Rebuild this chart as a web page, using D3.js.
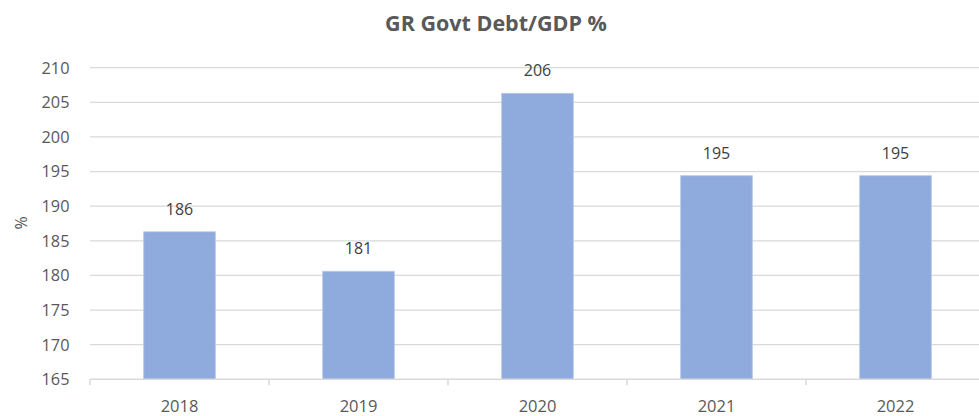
<!DOCTYPE html>
<html><head><meta charset="utf-8">
<script src="https://cdn.jsdelivr.net/npm/d3@7"></script>
<style>body{margin:0;background:#fff;}svg{display:block;font-family:"Open Sans","Noto Sans",sans-serif;}</style>
</head><body>
<svg id="c" width="979" height="416"></svg>
<script>
const categories = ["2018","2019","2020","2021","2022"];
const values = [186.3, 180.6, 206.3, 194.4, 194.4];
const labels = ["186","181","206","195","195"];
const yTicks = [165,170,175,180,185,190,195,200,205,210];
const title = "GR Govt Debt/GDP %";
const yTitle = "%";

const svg = d3.select("#c");
const pLeft = 90, pRight = 985, pTop = 67.7, pBottom = 379.3;
const x = d3.scaleBand().domain(categories).range([pLeft, pRight]).paddingInner(0.6).paddingOuter(0.3);
const step = x.step();
const y = d3.scaleLinear().domain([165,210]).range([pBottom, pTop]);

// gridlines
svg.append("g").selectAll("line").data(yTicks.slice(1)).join("line")
  .attr("x1", pLeft).attr("x2", 979).attr("y1", d=>y(d)).attr("y2", d=>y(d))
  .attr("stroke", "#d9d9d9").attr("stroke-width", 1.2);

// y labels
svg.append("g").selectAll("text").data(yTicks).join("text")
  .attr("x", 69.5).attr("y", d=>y(d)).attr("dy","0.36em").attr("text-anchor","end")
  .attr("font-size", 16.3).attr("fill", "#595959").text(d=>d);

// bars
svg.append("g").selectAll("rect").data(values).join("rect")
  .attr("x", (d,i)=>x(categories[i])).attr("width", x.bandwidth())
  .attr("y", d=>y(d)).attr("height", d=>y(165)-y(d))
  .attr("fill", "#8faadc").attr("stroke","#b4c7ec").attr("stroke-width",0.8);

// x axis line
svg.append("line").attr("x1", pLeft).attr("x2", 979).attr("y1", pBottom).attr("y2", pBottom)
  .attr("stroke", "#d9d9d9").attr("stroke-width", 1.5);
// tick marks at band boundaries
const bounds = categories.map(c => x(c) - (step - x.bandwidth())/2);
svg.append("g").selectAll("line").data(bounds).join("line")
  .attr("x1", d=>d).attr("x2", d=>d).attr("y1", pBottom).attr("y2", pBottom+6)
  .attr("stroke", "#d9d9d9").attr("stroke-width", 1.5);

// x labels
svg.append("g").selectAll("text").data(categories).join("text")
  .attr("x", d=>x(d)+x.bandwidth()/2).attr("y", 412).attr("text-anchor","middle")
  .attr("font-size", 16.5).attr("fill", "#595959").text(d=>d);

// data labels
svg.append("g").selectAll("text").data(values).join("text")
  .attr("x", (d,i)=>x(categories[i])+x.bandwidth()/2).attr("y", d=>y(d)-17)
  .attr("text-anchor","middle").attr("font-size", 16).attr("fill", "#404040").text((d,i)=>labels[i]);

// title
svg.append("text").attr("x", 496).attr("y", 31).attr("text-anchor","middle")
  .attr("font-size", 21.5).attr("font-weight", "bold").attr("fill", "#595959").text(title);

// y title
svg.append("text").attr("transform", "translate(27,223) rotate(-90)").attr("text-anchor","middle")
  .attr("font-size", 16).attr("fill", "#595959").text(yTitle);
</script>
</body></html>
